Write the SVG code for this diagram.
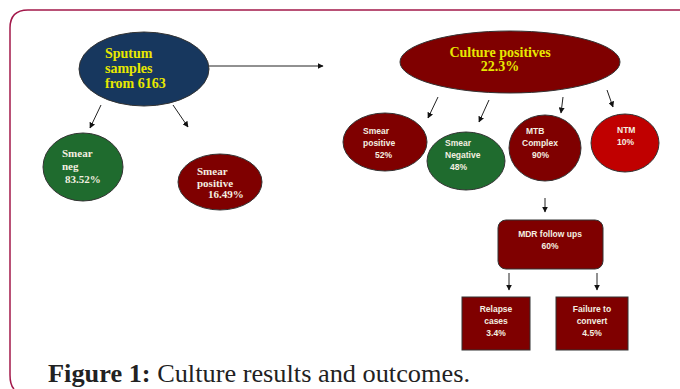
<svg xmlns="http://www.w3.org/2000/svg" width="680" height="389" viewBox="0 0 680 389">
<defs>
<marker id="ah" viewBox="0 0 10 10" refX="9" refY="5" markerWidth="6" markerHeight="6" orient="auto" markerUnits="userSpaceOnUse"><path d="M0,0 L10,5 L0,10 z" fill="#111"/></marker>
<style>
.c{stroke:#222;stroke-width:1;fill:none;marker-end:url(#ah)}
.dr{fill:#7f0000;stroke:#333;stroke-width:1}
.gr{fill:#1f6b2e;stroke:#333;stroke-width:1}
.nv{fill:#17375e;stroke:#333;stroke-width:1}
.rd{fill:#c00000;stroke:#333;stroke-width:1}
.ys{font-family:"Liberation Serif",serif;font-weight:bold;fill:#e8e800;font-size:14px}
.ws{font-family:"Liberation Serif",serif;font-weight:bold;fill:#f4efe0;font-size:11px}
.wn{font-family:"Liberation Sans",sans-serif;font-weight:bold;fill:#f4efe0;font-size:8.5px}
.cap{font-family:"Liberation Serif",serif;font-size:25px;fill:#222}
</style>
</defs>
<rect width="680" height="389" fill="#fff"/>
<path d="M685,10 L28,10 Q10,10 10,28 L10,375 Q10,385 14,389" fill="none" stroke="#a3184a" stroke-width="1.5"/>
<g id="connectors">
<line class="c" x1="209" y1="66" x2="323" y2="66"/>
<line class="c" x1="101" y1="105" x2="90" y2="128"/>
<line class="c" x1="173" y1="105" x2="188" y2="127"/>
<line class="c" x1="438" y1="97" x2="428" y2="118"/>
<line class="c" x1="489" y1="100" x2="479" y2="122"/>
<line class="c" x1="563" y1="97" x2="561" y2="113"/>
<line class="c" x1="607" y1="90" x2="613" y2="107"/>
<line class="c" x1="545" y1="198" x2="545" y2="212"/>
<line class="c" x1="509" y1="273" x2="509" y2="290"/>
<line class="c" x1="597" y1="273" x2="597" y2="290"/>
</g>
<g id="sputum">
<ellipse class="nv" cx="144" cy="69" rx="65" ry="37"/>
<text class="ys" x="105" y="58">Sputum</text>
<text class="ys" x="105" y="73">samples</text>
<text class="ys" x="105" y="88">from  6163</text>
</g>
<g id="smear-neg">
<ellipse class="gr" cx="83" cy="167" rx="40" ry="34"/>
<text class="ws" x="62" y="157">Smear</text>
<text class="ws" x="62" y="170">neg</text>
<text class="ws" x="65" y="183">83.52%</text>
</g>
<g id="smear-pos">
<ellipse class="dr" cx="220" cy="182" rx="42" ry="28"/>
<text class="ws" x="197" y="175">Smear</text>
<text class="ws" x="197" y="187">positive</text>
<text class="ws" x="208" y="198">16.49%</text>
</g>
<g id="culture">
<ellipse class="dr" cx="510" cy="62" rx="110" ry="31"/>
<text class="ys" x="500" y="57" text-anchor="middle">Culture positives</text>
<text class="ys" x="500" y="71" text-anchor="middle">22.3%</text>
</g>
<g id="smear-pos2">
<ellipse class="dr" cx="385" cy="142" rx="42" ry="29"/>
<text class="wn" x="363" y="134">Smear</text>
<text class="wn" x="363" y="146">positive</text>
<text class="wn" x="375" y="158">52%</text>
</g>
<g id="smear-neg2">
<ellipse class="gr" cx="466" cy="161" rx="39" ry="29"/>
<text class="wn" x="445" y="146">Smear</text>
<text class="wn" x="445" y="158">Negative</text>
<text class="wn" x="450" y="170">48%</text>
</g>
<g id="mtb">
<ellipse class="dr" cx="545" cy="148" rx="36" ry="33"/>
<text class="wn" x="526" y="134">MTB</text>
<text class="wn" x="522" y="146">Complex</text>
<text class="wn" x="532" y="158">90%</text>
</g>
<g id="ntm">
<ellipse class="rd" cx="625" cy="143" rx="34" ry="29"/>
<text class="wn" x="617" y="133">NTM</text>
<text class="wn" x="617" y="145">10%</text>
</g>
<g id="mdr">
<rect class="dr" x="498" y="220" width="105" height="49" rx="8"/>
<text class="wn" x="550" y="237" text-anchor="middle">MDR follow ups</text>
<text class="wn" x="550" y="249" text-anchor="middle">60%</text>
</g>
<g id="relapse">
<rect class="dr" x="462" y="297" width="68" height="53"/>
<text class="wn" x="496" y="312" text-anchor="middle">Relapse</text>
<text class="wn" x="496" y="324" text-anchor="middle">cases</text>
<text class="wn" x="496" y="336" text-anchor="middle">3.4%</text>
</g>
<g id="failure">
<rect class="dr" x="556" y="297" width="72" height="53"/>
<text class="wn" x="592" y="312" text-anchor="middle">Failure to</text>
<text class="wn" x="592" y="324" text-anchor="middle">convert</text>
<text class="wn" x="592" y="336" text-anchor="middle">4.5%</text>
</g>
<text class="cap" x="48" y="382" textLength="422" lengthAdjust="spacingAndGlyphs"><tspan font-weight="bold">Figure 1:</tspan> Culture results and outcomes.</text>
</svg>
